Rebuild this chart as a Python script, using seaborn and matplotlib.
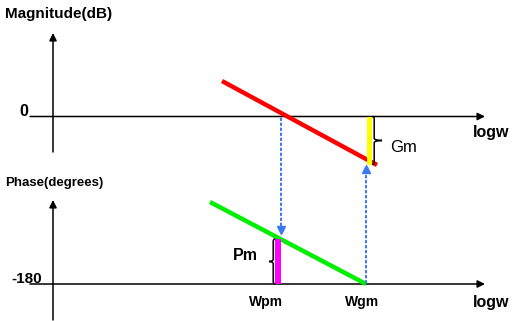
import matplotlib
matplotlib.use("Agg")
import matplotlib.pyplot as plt
import pandas as pd
import seaborn as sns
from matplotlib.patches import ConnectionPatch, PathPatch
from matplotlib.path import Path

# ---------------- data ----------------
mag_logw = [1.69, 3.24]          # log(w) of the magnitude asymptote ends
mag_db = [17.75, -24.25]         # magnitude (dB)
phase_logw = [1.57, 3.13]        # log(w) of the phase line ends
phase_deg = [-98.0, -180.0]      # phase (degrees)
w_pm = 2.28                      # phase-crossover frequency (log w)
w_gm = 3.13                      # gain-crossover frequency (log w)
gm_db = -24.0                    # magnitude at w_gm (gain margin bar end)
pm_deg = -135.0                  # phase at w_pm (phase margin bar end)
freq_labels = ["Wpm", "Wgm"]
freq_label_pos = [2.13, 3.09]

sns.set_theme(style="white")
plt.rcParams["font.family"] = ["Liberation Sans", "DejaVu Sans"]

W, H = 513, 321
fig = plt.figure(figsize=(W / 100, H / 100), dpi=100)
fig.patch.set_facecolor("white")

ax1 = fig.add_axes([0, 161 / H, 1, 160 / H])
ax2 = fig.add_axes([0, 0, 1, 161 / H])
ax1.set_xlim(-0.53, 4.60)
ax1.set_ylim(-21.75, 58.25)
ax2.set_xlim(-0.53, 4.60)
ax2.set_ylim(-217, -56)
for ax in (ax1, ax2):
    ax.set_axis_off()
    ax.patch.set_alpha(0)

ax_style = dict(arrowstyle="-|>", color="black", lw=1.1,
                mutation_scale=11, shrinkA=0, shrinkB=0)

# axes arrows (magnitude)
ax1.annotate("", xy=(4.32, 0), xytext=(-0.23, 0), arrowprops=ax_style)
ax1.annotate("", xy=(0, 41.75), xytext=(0, -17.75), arrowprops=ax_style)
# axes arrows (phase)
ax2.annotate("", xy=(4.32, -180), xytext=(-0.23, -180), arrowprops=ax_style)
ax2.annotate("", xy=(0, -96), xytext=(0, -216), arrowprops=ax_style)

# asymptotic lines
mag_df = pd.DataFrame({"logw": mag_logw, "dB": mag_db})
ph_df = pd.DataFrame({"logw": phase_logw, "deg": phase_deg})
sns.lineplot(data=mag_df, x="logw", y="dB", ax=ax1, color="#ff0000",
             lw=3.2, solid_capstyle="butt", zorder=3)
sns.lineplot(data=ph_df, x="logw", y="deg", ax=ax2, color="#00ee00",
             lw=3.2, solid_capstyle="butt", zorder=3)
for ax in (ax1, ax2):
    for ln in ax.lines:
        ln.set_clip_on(False)

# margin bars
ax1.bar([w_gm + 0.005], [gm_db], width=0.058, bottom=0, align="edge",
        color="#ffff00", edgecolor="none", zorder=4, clip_on=False)
ax2.bar([w_pm - 0.058], [pm_deg + 180], width=0.058, bottom=-180, align="edge",
        color="#ff00ff", edgecolor="none", zorder=4, clip_on=False)


def brace(ax, x0, xs, xt, y0, y1, h):
    ym = (y0 + y1) / 2
    verts = [(x0, y1), (xs, y1), (xs, y1 - h),
             (xs, ym + h),
             (xs, ym), (xt, ym),
             (xs, ym), (xs, ym - h),
             (xs, y0 + h),
             (xs, y0), (x0, y0)]
    codes = [Path.MOVETO, Path.CURVE3, Path.CURVE3,
             Path.LINETO,
             Path.CURVE3, Path.CURVE3,
             Path.CURVE3, Path.CURVE3,
             Path.LINETO,
             Path.CURVE3, Path.CURVE3]
    ax.add_patch(PathPatch(Path(verts, codes), fill=False, lw=1.1,
                           edgecolor="black", zorder=5, clip_on=False))


brace(ax1, w_gm + 0.063, w_gm + 0.082, w_gm + 0.16, gm_db, 0, 1.2)
brace(ax2, w_pm - 0.058, w_pm - 0.078, w_pm - 0.12, -180, pm_deg, 2.5)

# dotted projection arrows
blue = "#3b78f0"
con1 = ConnectionPatch(xyA=(w_pm, -1.0), coordsA=ax1.transData,
                       xyB=(w_pm, pm_deg + 8), coordsB=ax2.transData,
                       color=blue, lw=1.5, linestyle=(0, (0.8, 1.6)), zorder=2)
con1.set_capstyle("round")
fig.add_artist(con1)
ax2.plot([w_pm], [pm_deg + 9], marker="v", color=blue, markersize=5.5,
         clip_on=False, zorder=6)
con2 = ConnectionPatch(xyA=(w_gm, -180 + 1.5), coordsA=ax2.transData,
                       xyB=(w_gm, gm_db - 4.0), coordsB=ax1.transData,
                       color=blue, lw=1.5, linestyle=(0, (0.8, 1.6)), zorder=2)
con2.set_capstyle("round")
fig.add_artist(con2)
ax1.plot([w_gm], [gm_db - 2.3], marker="^", color=blue, markersize=5.5,
         clip_on=False, zorder=6)

# texts
bold = dict(fontweight="bold", color="black")
ax1.text(-0.48, 51.25, "Magnitude(dB)", ha="left", va="center", fontsize=11, **bold)
ax1.text(-0.29, 2.75, "0", ha="center", va="center", fontsize=11.5, **bold)
ax1.text(4.38, -8.25, "logw", ha="center", va="center", fontsize=11.5, **bold)
ax1.text(3.37, -15.75, "Gm", ha="left", va="center", fontsize=12, color="black")
ax2.text(-0.48, -79, "Phase(degrees)", ha="left", va="center", fontsize=9.5, **bold)
ax2.text(-0.26, -175, "-180", ha="center", va="center", fontsize=11, **bold)
ax2.text(2.05, -151, "Pm", ha="right", va="center", fontsize=11.5, **bold)
for lab, pos in zip(freq_labels, freq_label_pos):
    ax2.text(pos, -198, lab, ha="center", va="center", fontsize=10, **bold)
ax2.text(4.38, -198, "logw", ha="center", va="center", fontsize=11.5, **bold)

fig.savefig("out.png", dpi=100, facecolor="white")
